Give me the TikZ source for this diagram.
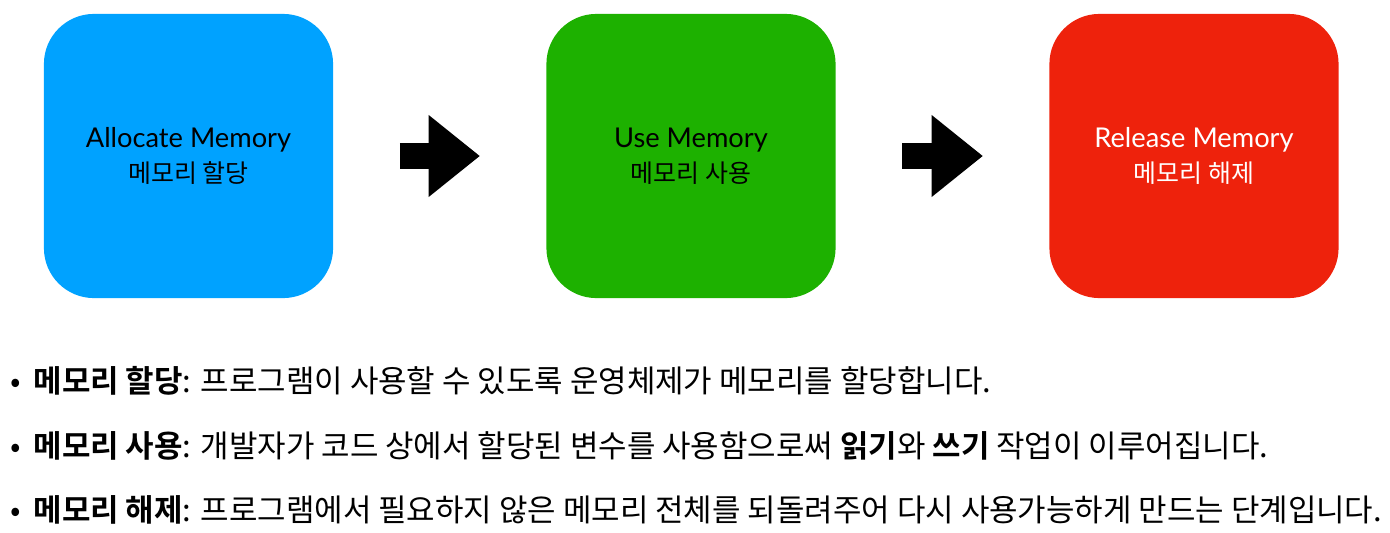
\documentclass[tikz,border=0pt]{standalone}
\usepackage{fontspec}
\setmainfont{Noto Sans CJK KR}[BoldFont={Noto Sans CJK KR Bold}]
\newfontfamily\latfont{Lato}
\usetikzlibrary{arrows.meta}

\definecolor{allocblue}{RGB}{0,162,255}
\definecolor{usegreen}{RGB}{29,177,0}
\definecolor{freered}{RGB}{238,34,12}

\newcommand\engline[1]{{\latfont\fontsize{7.75pt}{9pt}\selectfont #1}}
\newcommand\dotitem{•\hspace{3.5pt}}

\begin{document}
\begin{tikzpicture}[x=0.01cm, y=-0.01cm, every node/.style={font=\fontsize{7.1pt}{9pt}\selectfont},
	stage/.style={rounded corners=0.5cm, minimum width=2.89cm, minimum height=2.84cm, inner sep=0pt, align=center},
	bigarrow/.style={line width=0.25cm, -{Triangle[length=0.51cm, width=0.82cm, line width=0pt 0]}},
	item/.style={anchor=west, inner sep=0pt, font=\fontsize{8.8pt}{10pt}\selectfont}]
	\useasboundingbox (0,0) rectangle (1390,533);
	\node[stage, fill=allocblue] (alloc) at (188.5,156) {\engline{Allocate Memory}\\[1pt] 메모리 할당};
	\node[stage, fill=usegreen] (use) at (691,156) {\engline{Use Memory}\\[1pt] 메모리 사용};
	\node[stage, fill=freered, text=white] (free) at (1194,156) {\engline{Release Memory}\\[1pt] 메모리 해제};
	\draw[bigarrow] ([xshift=0.66cm]alloc.east) -- ([xshift=-0.66cm]use.west);
	\draw[bigarrow] ([xshift=0.66cm]use.east) -- ([xshift=-0.66cm]free.west);
	\node[item] (l1) at (10,381) {\dotitem\textbf{메모리 할당}: 프로그램이 사용할 수 있도록 운영체제가 메모리를 할당합니다.};
	\node[item] (l2) at (10,446) {\dotitem\textbf{메모리 사용}: 개발자가 코드 상에서 할당된 변수를 사용함으로써 \textbf{읽기}와 \textbf{쓰기} 작업이 이루어집니다.};
	\node[item] (l3) at (10,510) {\dotitem\textbf{메모리 해제}: 프로그램에서 필요하지 않은 메모리 전체를 되돌려주어 다시 사용가능하게 만드는 단계입니다.};
\end{tikzpicture}
\end{document}
